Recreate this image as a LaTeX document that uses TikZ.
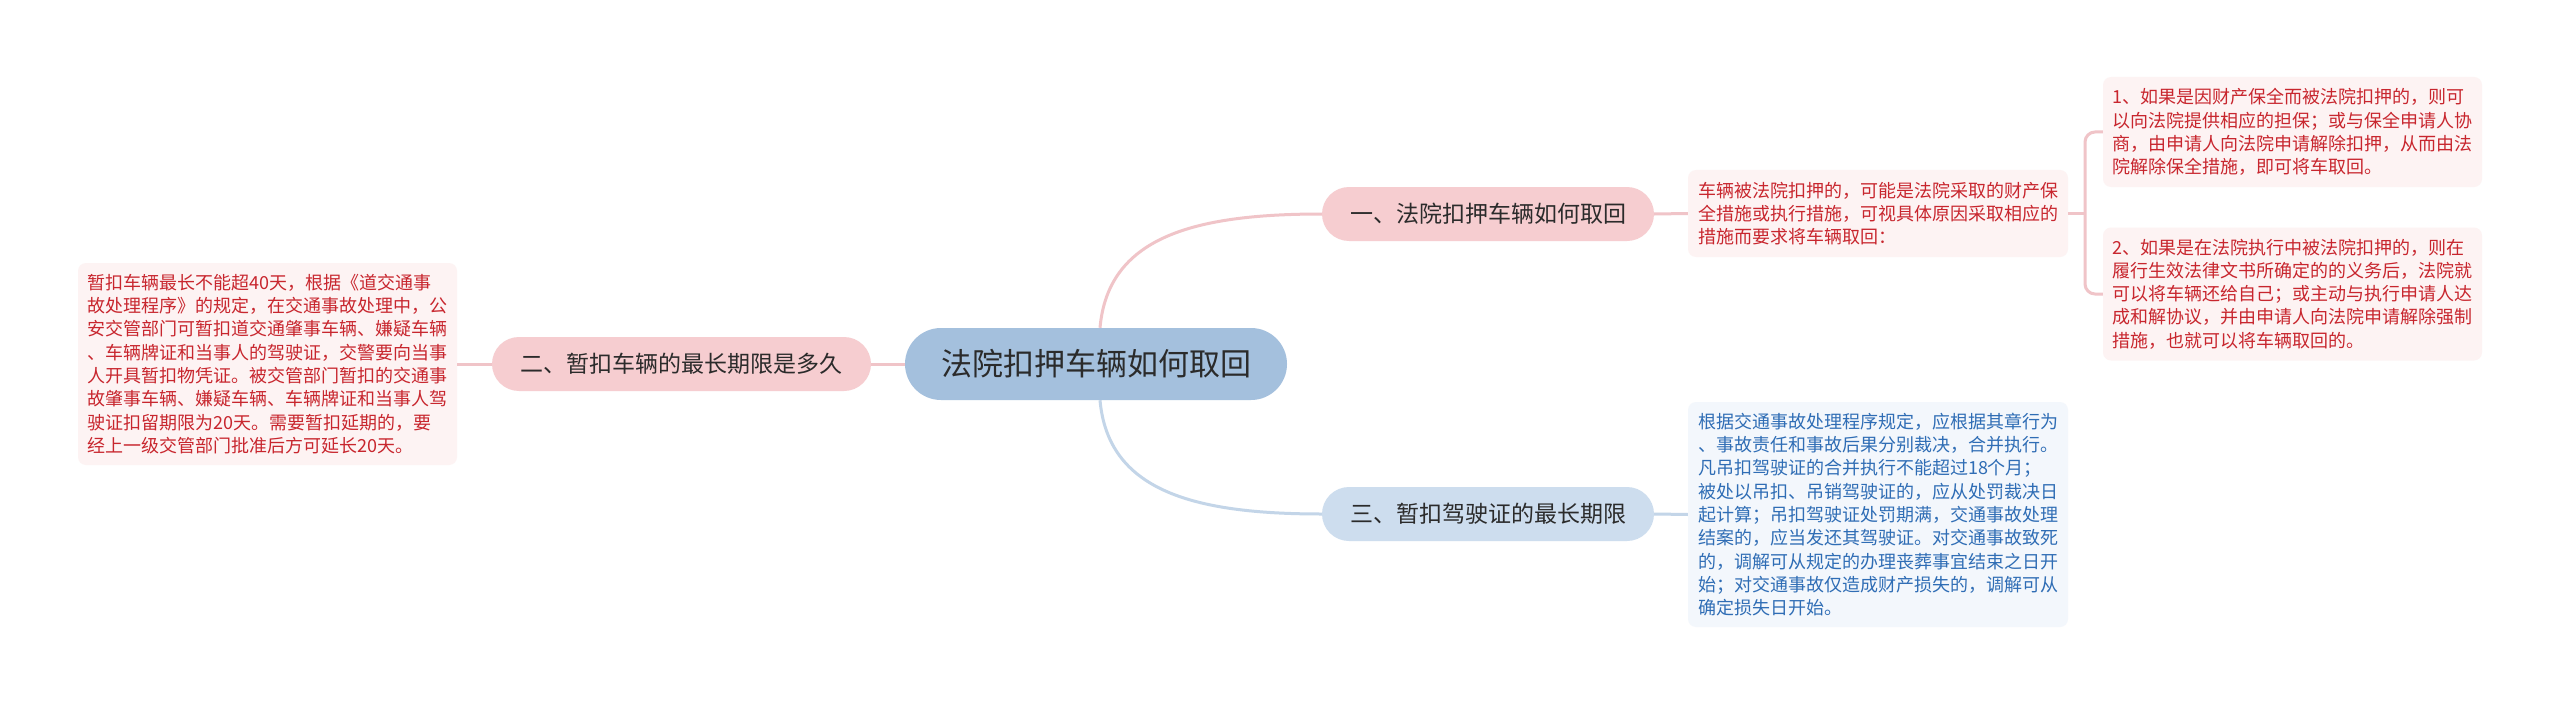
\documentclass[tikz,border=0pt]{standalone}
\usepackage{fontspec}
\setmainfont{Noto Sans CJK SC}
\definecolor{cfill}{HTML}{A4C0DD}
\definecolor{pfill}{HTML}{F6CDD0}
\definecolor{bfill}{HTML}{CDDDEE}
\definecolor{pline}{HTML}{F0C4C8}
\definecolor{bline}{HTML}{C3D5E8}
\definecolor{rbox}{HTML}{FDF3F3}
\definecolor{rtext}{HTML}{C8262E}
\definecolor{blbox}{HTML}{F3F7FC}
\definecolor{bltext}{HTML}{2F6DB5}
\definecolor{dtext}{HTML}{2B2B2B}
\tikzset{
  mainnode/.style={fill=cfill, text=dtext, rounded corners=36pt, minimum width=382pt, minimum height=72pt, inner sep=0pt, font=\fontsize{31}{37}\selectfont},
  pinkbr/.style={fill=pfill, text=dtext, rounded corners=27pt, minimum height=54pt, inner sep=0pt, font=\fontsize{23}{28}\selectfont},
  bluebr/.style={fill=bfill, text=dtext, rounded corners=27pt, minimum height=54pt, inner sep=0pt, font=\fontsize{23}{28}\selectfont},
  redbox/.style={fill=rbox, text=rtext, rounded corners=8pt, inner sep=0pt, align=left, font=\fontsize{18}{23.3}\selectfont},
  bluebox/.style={fill=blbox, text=bltext, rounded corners=8pt, inner sep=0pt, align=left, font=\fontsize{18}{23.3}\selectfont},
  pinkline/.style={draw=pline, line width=3pt},
  blueline/.style={draw=bline, line width=3pt}
}
\begin{document}
\begin{tikzpicture}[x=1pt,y=-1pt]
\fill[white] (0,0) rectangle (2560,706);
\useasboundingbox (0,0) rectangle (2560,706);

\node[mainnode] (c) at (1096,364) {法院扣押车辆如何取回};
\node[pinkbr, minimum width=332pt] (b1) at (1488,214) {一、法院扣押车辆如何取回};
\node[bluebr, minimum width=332pt] (b3) at (1488,514) {三、暂扣驾驶证的最长期限};
\node[pinkbr, minimum width=379pt] (b2) at (681.5,364) {二、暂扣车辆的最长期限是多久};

\node[redbox, minimum width=379pt, minimum height=202pt] (t2) at (267.5,364) {暂扣车辆最长不能超40天，根据《道交通事\\故处理程序》的规定，在交通事故处理中，公\\安交管部门可暂扣道交通肇事车辆、嫌疑车辆\\、车辆牌证和当事人的驾驶证，交警要向当事\\人开具暂扣物凭证。被交管部门暂扣的交通事\\故肇事车辆、嫌疑车辆、车辆牌证和当事人驾\\驶证扣留期限为20天。需要暂扣延期的，要\\经上一级交管部门批准后方可延长20天。};

\node[redbox, minimum width=380pt, minimum height=87pt] (t1) at (1878,213.5) {车辆被法院扣押的，可能是法院采取的财产保\\全措施或执行措施，可视具体原因采取相应的\\措施而要求将车辆取回：};

\node[redbox, minimum width=379pt, minimum height=110pt] (t1a) at (2292.5,132) {1、如果是因财产保全而被法院扣押的，则可\\以向法院提供相应的担保；或与保全申请人协\\商，由申请人向法院申请解除扣押，从而由法\\院解除保全措施，即可将车取回。};

\node[redbox, minimum width=379pt, minimum height=133pt] (t1b) at (2292.5,294) {2、如果是在法院执行中被法院扣押的，则在\\履行生效法律文书所确定的的义务后，法院就\\可以将车辆还给自己；或主动与执行申请人达\\成和解协议，并由申请人向法院申请解除强制\\措施，也就可以将车辆取回的。};

\node[bluebox, minimum width=380pt, minimum height=225pt] (t3) at (1878,514.5) {根据交通事故处理程序规定，应根据其章行为\\、事故责任和事故后果分别裁决，合并执行。\\凡吊扣驾驶证的合并执行不能超过18个月；\\被处以吊扣、吊销驾驶证的，应从处罚裁决日\\起计算；吊扣驾驶证处罚期满，交通事故处理\\结案的，应当发还其驾驶证。对交通事故致死\\的，调解可从规定的办理丧葬事宜结束之日开\\始；对交通事故仅造成财产损失的，调解可从\\确定损失日开始。};

\draw[pinkline] ([xshift=4pt]c.north) .. controls +(8,-90) and +(-130,0) .. (b1.west);
\draw[blueline] ([xshift=4pt]c.south) .. controls +(8,90) and +(-130,0) .. (b3.west);
\draw[pinkline] (c.west) -- (b2.east);
\draw[pinkline] (b2.west) -- (t2.east);
\draw[pinkline] (b1.east) -- (t1.west);
\draw[blueline] (b3.east) -- (t3.west);
\coordinate (j) at (2085,213.5);
\draw[pinkline] (t1.east) -- (j);
\draw[pinkline, rounded corners=10pt] (t1a.west) -| (j) |- (t1b.west);
\end{tikzpicture}
\end{document}
